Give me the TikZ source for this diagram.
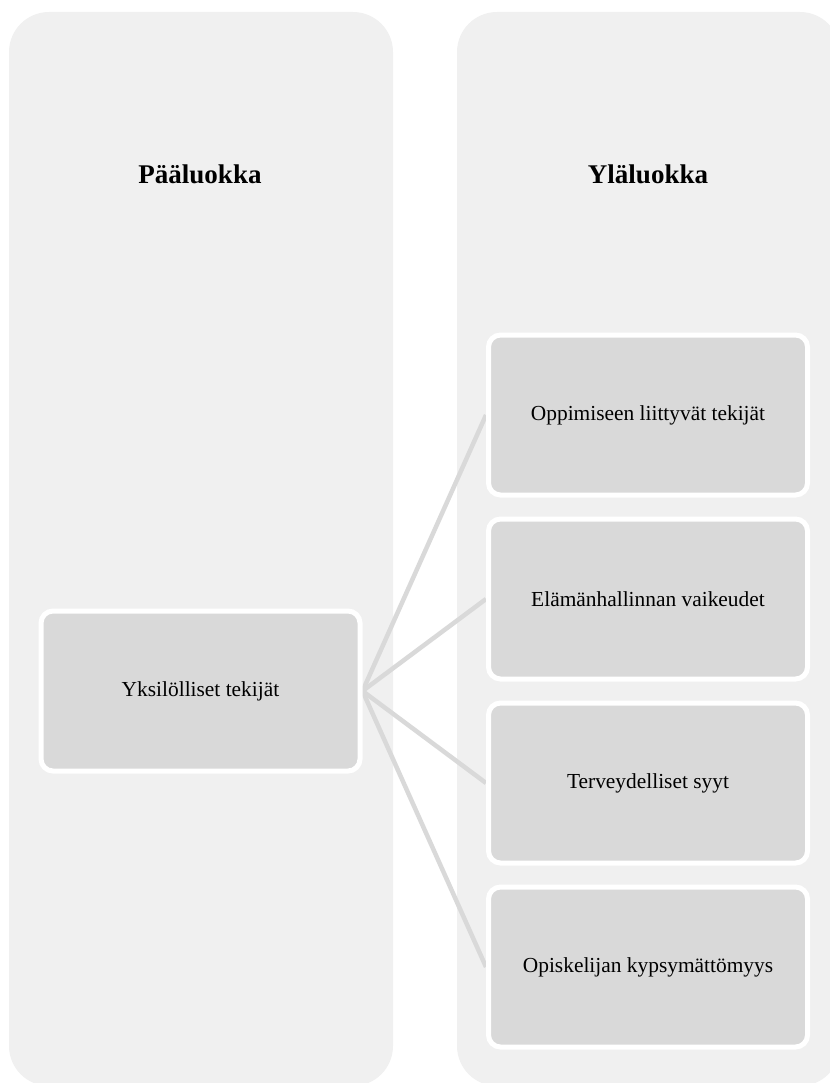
\documentclass[tikz,border=0pt]{standalone}
\usepackage{fontspec}
\setmainfont{Liberation Serif}
\usetikzlibrary{positioning,backgrounds}
\definecolor{panelgray}{HTML}{F0F0F0}
\definecolor{boxgray}{HTML}{D9D9D9}

\begin{document}
\begin{tikzpicture}[x=1pt,y=-1pt,
	panel/.style={fill=panelgray,rounded corners=40pt},
	head/.style={font=\bfseries\fontsize{27}{32}\selectfont},
	item/.style={fill=boxgray,draw=white,line width=5pt,rounded corners=12pt,minimum width=319pt,minimum height=160pt,inner sep=0pt,font=\fontsize{21.4}{25}\selectfont},
	link/.style={draw=boxgray,line width=4.5pt}]
			\useasboundingbox (0,0) rectangle (829,1083);
			%column titles
			\node[head] (paa) at (200,174) {Pääluokka};
			\node[head] (yla) at (648,174) {Yläluokka};
			%main class box
			\node[item] (yks) at (200.5,691) {Yksilölliset tekijät};
			%upper class boxes
			\node[item] (opp) at (648,415) {Oppimiseen liittyvät tekijät};
			\node[item,below=19pt of opp] (ela) {Elämänhallinnan vaikeudet};
			\node[item,below=19pt of ela] (ter) {Terveydelliset syyt};
			\node[item,below=19pt of ter] (opi) {Opiskelijan kypsymättömyys};
			%panels and links behind
			\begin{scope}[on background layer]
				\fill[panel] (9,12) rectangle (393,1086);
				\fill[panel] (457,12) rectangle (840,1086);
				\foreach \t in {opp,ela,ter,opi}
					\draw[link] (yks.east) -- (\t.west);
			\end{scope}
\end{tikzpicture}
\end{document}
